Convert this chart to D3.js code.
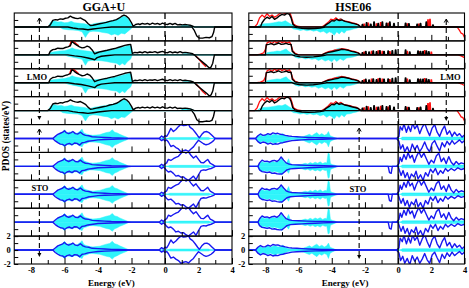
<!DOCTYPE html>
<html><head><meta charset="utf-8">
<script src="https://cdn.jsdelivr.net/npm/d3@7"></script>
<style>
body{margin:0;background:#fff}
svg{display:block}
text{font-family:"Liberation Serif","Times New Roman",serif;font-weight:bold;fill:#000}
</style>
</head><body>
<svg id="c" width="469" height="288"></svg>
<script>
// ---------- tick labels / titles ----------
const energyTicks = [-8,-6,-4,-2,0,2,4];
const energyMinor = [-7,-5,-3,-1,1,3];
const dosTicks = [2,0,-2];
const panelTitles = ["GGA+U","HSE06"];
const rowLabels = ["LMO","STO"];
const xTitle = "Energy (eV)";
const yTitle = "PDOS (states/eV)";

// ---------- GGA+U, LMO (profile A: rows 1 & 4) ----------
const ggaLmoA_up = [[-7.0,0],[-6.85,0.3],[-6.7,0.95],[-6.55,1.05],[-6.4,1.0],[-6.25,1.15],[-6.1,1.1],[-5.95,1.25],[-5.8,1.3],[-5.65,1.55],[-5.5,1.35],[-5.35,1.25],[-5.2,1.2],[-5.05,1.3],[-4.9,1.1],[-4.75,0.9],[-4.6,0.5],[-4.45,0.2],[-4.3,0.25],[-4.1,0.35],[-3.9,0.45],[-3.7,0.55],[-3.5,0.65],[-3.3,0.8],[-3.1,0.9],[-2.9,1.05],[-2.75,1.25],[-2.6,1.5],[-2.45,1.7],[-2.3,1.55],[-2.15,1.2],[-2.0,0.6],[-1.9,0.1],[-1.75,0.35],[-1.6,0.45],[-1.5,0.35],[-1.35,0.5],[-1.2,0.4],[-1.05,0.5],[-0.9,0.35],[-0.75,0.55],[-0.6,0.4],[-0.45,0.5],[-0.3,0.35],[-0.15,0.55],[0,0.4],[0.15,0.35],[0.3,0.5],[0.45,0.35],[0.6,0.5],[0.75,0.3],[0.9,0.35],[1.05,0.3],[1.2,0.35],[1.35,0.3],[1.5,0.25],[1.65,0.1],[1.75,0]];
const ggaLmoA_dn = [[-5.8,0],[-5.5,-0.15],[-5.2,-0.25],[-4.9,-0.3],[-4.6,-0.4],[-4.3,-0.3],[-4.0,-0.2],[-3.6,-0.1],[-3.2,0],[1.6,0],[1.75,-0.5],[1.9,-1.3],[2.05,-1.6],[2.25,-1.6],[2.45,-1.5],[2.65,-1.55],[2.8,-1.4],[2.9,-0.8],[2.97,0]];
const ggaLmoA_cyUp = [[-6.95,0],[-6.85,0.6],[-6.7,0.9],[-6.55,0.8],[-6.4,0.7],[-6.2,0.75],[-6.0,0.6],[-5.8,0.65],[-5.6,0.8],[-5.4,0.6],[-5.2,0.55],[-5.0,0.5],[-4.8,0.45],[-4.6,0.3],[-4.4,0.35],[-4.2,0.5],[-4.0,0.55],[-3.8,0.65],[-3.6,0.7],[-3.4,0.8],[-3.2,0.9],[-3.0,1.0],[-2.8,1.1],[-2.6,1.4],[-2.45,1.55],[-2.3,1.4],[-2.15,1.0],[-2.0,0.4],[-1.9,0],[0.9,0],[1.0,0.2],[1.3,0.25],[1.6,0.2],[1.75,0]];
const ggaLmoA_cyDn = [[-6.3,0],[-6.1,-0.3],[-5.8,-0.4],[-5.5,-0.45],[-5.2,-0.5],[-4.95,-0.7],[-4.75,-1.5],[-4.62,-1.0],[-4.5,-0.7],[-4.3,-0.6],[-4.0,-0.65],[-3.7,-0.8],[-3.4,-0.9],[-3.2,-1.15],[-3.0,-1.0],[-2.8,-1.2],[-2.6,-0.9],[-2.4,-1.0],[-2.2,-0.6],[-2.0,-0.2],[-1.9,0]];

// ---------- GGA+U, LMO (profile B: rows 2 & 3) ----------
const ggaLmoB_up = [[-6.95,0],[-6.85,0.5],[-6.7,0.75],[-6.55,0.8],[-6.4,0.95],[-6.25,0.9],[-6.1,0.9],[-5.95,1.05],[-5.8,1.15],[-5.65,1.3],[-5.55,1.9],[-5.4,1.6],[-5.25,1.35],[-5.1,1.15],[-4.95,1.0],[-4.8,1.05],[-4.65,1.25],[-4.5,1.1],[-4.35,0.7],[-4.2,0.15],[-4.05,0.3],[-3.85,0.45],[-3.65,0.55],[-3.45,0.65],[-3.2,0.8],[-3.0,0.9],[-2.8,1.05],[-2.6,1.2],[-2.4,1.35],[-2.2,1.45],[-2.05,1.5],[-1.95,0.2],[-1.8,0.35],[-1.65,0.3],[-1.5,0.4],[-1.35,0.3],[-1.2,0.45],[-1.05,0.3],[-0.9,0.4],[-0.75,0.35],[-0.6,0.45],[-0.45,0.3],[-0.3,0.4],[-0.15,0.5],[0,0.35],[0.15,0.3],[0.3,0.45],[0.45,0.3],[0.6,0.4],[0.75,0.3],[0.9,0.45],[1.05,0.3],[1.2,0.35],[1.35,0.3],[1.5,0.25],[1.65,0.15],[1.75,0]];
const ggaLmoB_dn = [[-5.8,0],[-5.4,-0.15],[-5.0,-0.25],[-4.6,-0.45],[-4.35,-0.6],[-4.2,-0.7],[-4.05,-0.4],[-3.8,-0.2],[-3.4,-0.1],[-3.0,0],[1.75,0],[1.9,-0.35],[2.1,-0.75],[2.3,-1.15],[2.5,-1.55],[2.65,-1.9],[2.75,-1.75],[2.85,-1.2],[2.95,0]];
const ggaLmoB_redV = [[-5.7,1.25],[-5.58,2.1],[-5.45,1.9],[-5.3,1.6],[-5.15,1.3]];
const ggaLmoB_redC = [[1.85,-0.15],[2.05,-0.7],[2.25,-1.25],[2.45,-1.7]];
const ggaLmoB_cyUp = [[-6.95,0],[-6.85,0.35],[-6.6,0.45],[-6.3,0.55],[-6.0,0.6],[-5.7,0.8],[-5.55,1.0],[-5.4,0.85],[-5.1,0.7],[-4.8,0.6],[-4.5,0.5],[-4.3,0.4],[-4.1,0.45],[-3.8,0.5],[-3.5,0.6],[-3.2,0.7],[-2.9,0.85],[-2.6,1.05],[-2.3,1.25],[-2.1,1.35],[-2.0,1.2],[-1.95,0],[1.0,0],[1.1,0.15],[1.6,0.2],[1.7,0]];
const ggaLmoB_cyDn = [[-6.0,0],[-5.8,-0.2],[-5.5,-0.35],[-5.2,-0.5],[-4.95,-0.65],[-4.75,-1.5],[-4.6,-0.9],[-4.4,-0.8],[-4.1,-0.8],[-3.8,-0.85],[-3.5,-0.95],[-3.2,-1.1],[-2.9,-1.2],[-2.7,-1.5],[-2.55,-1.2],[-2.4,-1.45],[-2.25,-1.0],[-2.05,-0.6],[-1.95,0]];

// ---------- GGA+U, STO (valence shared by rows 5-9) ----------
const ggaStoVal_up = [[-6.7,0],[-6.55,0.3],[-6.4,0.6],[-6.25,0.75],[-6.1,0.9],[-6.0,1.1],[-5.9,0.85],[-5.75,0.7],[-5.6,0.85],[-5.5,1.0],[-5.35,0.7],[-5.2,0.65],[-5.05,0.9],[-4.9,0.6],[-4.75,0.45],[-4.55,0.4],[-4.35,0.25],[-4.0,0.2],[-3.6,0.15],[-3.2,0.1],[-2.8,0.08],[-2.4,0.05],[-2.0,0]];
const ggaStoVal_dn = [[-6.7,0],[-6.55,-0.35],[-6.4,-0.6],[-6.25,-0.8],[-6.1,-0.85],[-6.0,-1.05],[-5.85,-0.8],[-5.7,-0.7],[-5.55,-0.9],[-5.4,-0.65],[-5.25,-0.7],[-5.1,-0.95],[-4.95,-0.6],[-4.8,-0.55],[-4.6,-0.4],[-4.3,-0.3],[-4.0,-0.2],[-3.6,-0.15],[-3.2,-0.12],[-2.8,-0.08],[-2.4,-0.05],[-2.0,0]];
const ggaStoVal_cyUp = [[-6.6,0],[-6.45,0.4],[-6.3,0.7],[-6.15,0.85],[-6.0,1.25],[-5.85,0.8],[-5.7,0.95],[-5.55,0.9],[-5.4,0.8],[-5.25,0.75],[-5.1,1.0],[-4.95,1.35],[-4.85,0.8],[-4.7,0.65],[-4.5,0.5],[-4.3,0.45],[-4.1,0.5],[-3.9,0.55],[-3.7,0.7],[-3.5,0.85],[-3.3,0.95],[-3.15,1.25],[-3.0,0.9],[-2.85,0.8],[-2.7,0.6],[-2.5,0.4],[-2.3,0.2],[-2.15,0],[0.15,0],[0.3,0.15],[2.6,0.15],[2.75,0]];
const ggaStoVal_cyDn = [[-6.6,0],[-6.45,-0.45],[-6.3,-0.7],[-6.15,-0.9],[-6.0,-1.2],[-5.85,-0.85],[-5.7,-0.9],[-5.55,-0.95],[-5.4,-0.8],[-5.25,-0.8],[-5.1,-1.05],[-4.95,-1.2],[-4.85,-0.75],[-4.7,-0.7],[-4.5,-0.5],[-4.3,-0.5],[-4.1,-0.55],[-3.9,-0.6],[-3.7,-0.75],[-3.5,-0.9],[-3.3,-1.0],[-3.15,-1.3],[-3.0,-0.95],[-2.85,-0.8],[-2.7,-0.6],[-2.5,-0.4],[-2.3,-0.2],[-2.15,0],[0.15,0],[0.3,-0.15],[2.6,-0.15],[2.75,0]];
// conduction band, profile C (rows 5 & 9) and D (rows 6-8)
const ggaStoC_up = [[-0.35,0],[-0.2,0.35],[-0.1,0.15],[0.0,0.4],[0.1,0.3],[0.2,0.7],[0.35,1.45],[0.5,1.0],[0.65,1.3],[0.8,1.7],[0.95,2.0],[1.1,1.85],[1.25,1.9],[1.4,2.05],[1.5,1.6],[1.65,1.35],[1.8,0.9],[1.95,0.4],[2.05,0.1],[2.2,0.6],[2.35,0.95],[2.5,1.0],[2.65,0.8],[2.8,0.45],[2.95,0.1],[3.05,0]];
const ggaStoC_dn = [[-0.35,0],[-0.2,-0.3],[-0.1,-0.1],[0.0,-0.35],[0.1,-0.2],[0.2,-0.5],[0.35,-1.15],[0.5,-1.0],[0.65,-1.3],[0.8,-1.5],[0.95,-1.9],[1.1,-1.75],[1.25,-1.65],[1.4,-1.85],[1.55,-1.5],[1.7,-1.2],[1.85,-0.7],[2.0,-0.25],[2.15,-0.5],[2.3,-0.75],[2.45,-0.9],[2.6,-0.8],[2.75,-0.6],[2.9,-0.3],[3.0,0]];
const ggaStoD_up = [[-0.35,0],[-0.2,0.3],[-0.1,0.1],[0.0,0.35],[0.1,0.5],[0.2,1.0],[0.35,0.85],[0.5,1.1],[0.65,1.3],[0.8,1.45],[0.95,1.85],[1.1,2.2],[1.25,1.9],[1.4,2.1],[1.55,1.6],[1.7,1.2],[1.85,1.5],[2.0,1.0],[2.15,0.55],[2.3,0.5],[2.45,0.8],[2.55,1.0],[2.7,0.45],[2.85,0.25],[3.0,0]];
const ggaStoD_dn = [[-0.35,0],[-0.2,-0.3],[-0.1,-0.1],[0.0,-0.3],[0.1,-0.6],[0.2,-0.8],[0.35,-0.7],[0.5,-1.0],[0.65,-1.4],[0.8,-1.3],[0.95,-1.55],[1.1,-1.5],[1.25,-1.8],[1.4,-2.0],[1.55,-1.7],[1.7,-1.4],[1.85,-1.9],[2.0,-1.2],[2.15,-0.6],[2.3,-0.5],[2.45,-0.55],[2.6,-0.4],[2.75,-0.3],[2.9,-0.15],[3.0,0]];

// ---------- HSE06, LMO (profile E: rows 1 & 4) ----------
const hseLmoE_red = [[-8.65,0],[-8.5,0.4],[-8.35,1.3],[-8.2,1.7],[-8.05,1.4],[-7.9,1.9],[-7.75,1.5],[-7.6,1.7],[-7.45,1.4],[-7.3,1.6],[-7.15,1.9],[-7.0,2.1],[-6.8,1.9],[-6.65,2.2],[-6.5,1.9],[-6.4,1.2],[-6.3,0.4],[-6.1,0.1],[-5.8,0],[-4.6,0],[-4.4,0.3],[-4.2,0.7],[-4.05,1.1],[-3.9,1.0],[-3.75,1.3],[-3.6,1.0],[-3.45,1.15],[-3.3,0.9],[-3.1,0.8],[-2.9,0.7],[-2.7,0.55],[-2.5,0.45],[-2.3,0.1],[-2.2,0],[3.55,0],[3.7,-0.5],[3.8,-0.9],[3.9,-1.0],[4.0,-1.5]];
const hseLmoE_redSpikeE = [-2.05,-1.8,-1.3,-1.05,-0.6,0.55,1.25,1.8,1.92];
const hseLmoE_redSpikeH = [0.4,0.55,0.45,0.6,0.5,0.45,0.4,1.0,1.1];
const hseLmoE_black = [[-8.3,0],[-8.2,0.6],[-8.05,1.1],[-7.9,1.4],[-7.75,1.2],[-7.6,1.5],[-7.45,1.1],[-7.3,1.3],[-7.15,1.6],[-7.0,1.8],[-6.85,1.7],[-6.7,1.95],[-6.55,1.8],[-6.45,1.3],[-6.35,0.4],[-6.2,0.1],[-6.0,0],[-4.5,0],[-4.35,0.3],[-4.15,0.6],[-4.0,0.9],[-3.85,0.85],[-3.7,1.1],[-3.55,0.9],[-3.4,1.0],[-3.2,0.8],[-3.0,0.7],[-2.8,0.55],[-2.6,0.45],[-2.4,0.3],[-2.25,0]];
const hseLmoE_spikeE = [-2.15,-1.9,-1.65,-1.45,-1.2,-0.95,-0.7,-0.5,-0.25,0.45,0.65,1.15,1.35,1.7,2.1];
const hseLmoE_spikeH = [0.35,0.6,0.4,0.7,0.5,0.7,0.55,0.7,0.5,0.55,0.45,0.4,0.5,0.7,0.3];
const hseLmoE_blackDn = [[-6.3,0],[-6.1,-0.1],[-5.8,-0.2],[-5.4,-0.25],[-5.0,-0.22],[-4.7,-0.15],[-4.4,0]];
const hseLmoE_cyUp = [[-8.5,0],[-8.35,0.3],[-8.1,0.45],[-7.8,0.5],[-7.5,0.6],[-7.2,0.75],[-7.0,0.7],[-6.8,0.9],[-6.6,0.6],[-6.4,0.3],[-6.2,0.1],[-6.0,0],[-4.6,0],[-4.4,0.35],[-4.2,0.55],[-4.0,0.7],[-3.8,0.9],[-3.6,1.05],[-3.45,1.25],[-3.3,0.85],[-3.1,0.7],[-2.9,0.55],[-2.7,0.4],[-2.5,0.25],[-2.3,0]];
const hseLmoE_cyDn = [[-6.5,0],[-6.3,-0.3],[-6.1,-0.35],[-5.9,-0.5],[-5.7,-0.4],[-5.5,-0.55],[-5.3,-0.45],[-5.1,-0.6],[-4.9,-0.5],[-4.7,-0.75],[-4.5,-0.6],[-4.3,-0.95],[-4.15,-0.7],[-4.0,-0.85],[-3.85,-1.2],[-3.7,-0.7],[-3.55,-1.0],[-3.4,-0.6],[-3.25,-0.9],[-3.1,-0.5],[-2.9,-0.45],[-2.7,-0.3],[-2.5,-0.2],[-2.3,0]];

// ---------- HSE06, LMO (profile F: rows 2 & 3) ----------
const hseLmoF_red = [[-8.5,0],[-8.3,0.1],[-8.1,0.3],[-8.0,0.8],[-7.9,1.7],[-7.75,1.9],[-7.6,1.6],[-7.45,1.95],[-7.3,1.7],[-7.15,2.0],[-7.0,1.75],[-6.85,1.9],[-6.7,1.7],[-6.55,1.85],[-6.45,1.4],[-6.35,0.6],[-6.2,0.2],[-6.0,0],[-4.6,0],[-4.4,0.25],[-4.2,0.45],[-4.0,0.55],[-3.8,0.7],[-3.6,0.75],[-3.4,0.9],[-3.2,0.8],[-3.0,0.7],[-2.8,0.55],[-2.6,0.45],[-2.4,0.3],[-2.25,0],[3.6,0],[3.8,-0.15],[4.0,-0.4]];
const hseLmoF_redSpikeE = [-2.05,-1.6,-1.2,-0.95,-0.5,0.55,1.25,1.6,2.0];
const hseLmoF_redSpikeH = [0.4,0.5,0.55,0.5,0.45,0.5,0.45,0.6,0.4];
const hseLmoF_black = [[-8.0,0],[-7.95,1.45],[-7.8,1.5],[-7.65,1.6],[-7.5,1.45],[-7.35,1.55],[-7.2,1.7],[-7.05,1.5],[-6.9,1.55],[-6.75,1.65],[-6.6,1.5],[-6.45,1.5],[-6.38,0.5],[-6.2,0.1],[-6.0,0],[-4.6,0],[-4.4,0.2],[-4.2,0.35],[-4.0,0.45],[-3.8,0.55],[-3.6,0.65],[-3.4,0.8],[-3.2,0.75],[-3.0,0.65],[-2.8,0.5],[-2.6,0.4],[-2.4,0.25],[-2.25,0]];
const hseLmoF_spikeE = [-2.15,-1.95,-1.75,-1.5,-1.3,-1.1,-0.85,-0.6,-0.35,-0.15,0.45,0.7,1.2,1.35,1.5,1.7,1.85];
const hseLmoF_spikeH = [0.3,0.5,0.4,0.55,0.45,0.6,0.5,0.55,0.6,0.7,0.7,0.4,0.55,0.5,0.5,0.55,0.45];
const hseLmoF_blackDn = [[-6.4,0],[-6.2,-0.15],[-5.9,-0.3],[-5.5,-0.35],[-5.1,-0.3],[-4.8,-0.2],[-4.5,-0.1],[-4.3,0]];
const hseLmoF_cyUp = [[-8.0,0],[-7.9,0.3],[-7.7,0.4],[-7.5,0.45],[-7.3,0.55],[-7.1,0.5],[-6.9,0.7],[-6.75,0.85],[-6.6,0.5],[-6.45,0.25],[-6.3,0],[-4.5,0],[-4.3,0.3],[-4.1,0.45],[-3.9,0.6],[-3.7,0.85],[-3.55,0.95],[-3.4,0.8],[-3.2,0.7],[-3.0,0.55],[-2.8,0.45],[-2.6,0.3],[-2.4,0.15],[-2.3,0]];
const hseLmoF_cyDn = [[-6.4,0],[-6.2,-0.35],[-6.0,-0.5],[-5.8,-0.4],[-5.6,-0.6],[-5.4,-0.5],[-5.2,-0.65],[-5.0,-0.55],[-4.8,-0.8],[-4.6,-0.6],[-4.4,-0.9],[-4.2,-0.7],[-4.0,-1.0],[-3.85,-0.6],[-3.7,-0.95],[-3.5,-0.55],[-3.3,-0.8],[-3.1,-0.45],[-2.9,-0.4],[-2.7,-0.3],[-2.5,-0.15],[-2.35,0]];

// ---------- HSE06, STO (profile G: rows 5 & 9) ----------
const hseStoG_up = [[-8.6,0],[-8.45,0.4],[-8.3,0.65],[-8.15,0.45],[-8.0,0.5],[-7.85,0.7],[-7.7,0.55],[-7.55,0.8],[-7.4,0.7],[-7.25,0.75],[-7.1,0.6],[-6.95,0.55],[-6.8,0.45],[-6.6,0.35],[-6.4,0.3],[-6.1,0.25],[-5.8,0.2],[-5.4,0.15],[-5.0,0.12],[-4.6,0.1],[-4.2,0.08],[-3.8,0.05],[-3.5,0],[-0.1,0],[0.05,0.3],[0.12,1.7],[0.25,1.2],[0.35,2.1],[0.5,0.9],[0.62,1.8],[0.75,1.0],[0.88,2.2],[1.0,1.4],[1.15,1.9],[1.3,0.7],[1.45,1.6],[1.6,2.2],[1.75,1.2],[1.9,0.4],[2.05,1.5],[2.2,2.0],[2.35,0.9],[2.5,0.3],[2.65,1.2],[2.8,1.8],[2.95,0.6],[3.1,1.1],[3.25,0.3],[3.4,0.9],[3.55,0.4],[3.7,0.7],[3.85,0.2],[4.0,0.5]];
const hseStoG_dn = [[-8.6,0],[-8.45,-0.45],[-8.3,-0.7],[-8.15,-0.5],[-8.0,-0.6],[-7.85,-0.8],[-7.7,-0.65],[-7.55,-0.85],[-7.4,-0.75],[-7.25,-0.8],[-7.1,-0.65],[-6.95,-0.6],[-6.8,-0.5],[-6.6,-0.4],[-6.4,-0.3],[-6.1,-0.25],[-5.8,-0.2],[-5.4,-0.15],[-5.0,-0.12],[-4.6,-0.1],[-4.2,-0.08],[-3.8,-0.05],[-3.5,0],[-0.1,0],[0.05,-0.4],[0.15,-1.5],[0.28,-0.9],[0.4,-1.9],[0.55,-1.2],[0.7,-2.1],[0.85,-0.8],[1.0,-1.6],[1.15,-1.0],[1.3,-1.9],[1.45,-1.3],[1.6,-0.5],[1.75,-1.4],[1.9,-1.9],[2.05,-0.7],[2.2,-0.3],[2.35,-1.1],[2.5,-1.8],[2.65,-0.6],[2.8,-1.2],[2.95,-0.4],[3.1,-0.9],[3.25,-0.3],[3.4,-0.8],[3.55,-0.5],[3.7,-0.2],[3.85,-0.6],[4.0,-0.3]];
const hseStoG_cyUp = [[-8.55,0],[-8.45,0.35],[-8.3,0.5],[-8.15,0.3],[-8.0,0.45],[-7.85,0.6],[-7.7,0.4],[-7.55,0.55],[-7.4,0.65],[-7.25,0.45],[-7.1,0.5],[-6.95,0.7],[-6.8,0.35],[-6.6,0.2],[-6.3,0.15],[-6.0,0.2],[-5.7,0.3],[-5.5,0.45],[-5.35,0.6],[-5.2,0.4],[-5.05,0.65],[-4.9,0.85],[-4.75,0.5],[-4.6,0.7],[-4.45,0.45],[-4.3,0.6],[-4.2,1.0],[-4.1,0.4],[-3.95,0.25],[-3.8,0.1],[-3.65,0],[0.15,0],[0.25,0.2],[4.0,0.2]];
const hseStoG_cyDn = [[-8.55,0],[-8.45,-0.4],[-8.3,-0.55],[-8.15,-0.35],[-8.0,-0.5],[-7.85,-0.65],[-7.7,-0.45],[-7.55,-0.6],[-7.4,-0.7],[-7.25,-0.5],[-7.1,-0.55],[-6.95,-0.6],[-6.8,-0.35],[-6.6,-0.2],[-6.3,-0.15],[-6.0,-0.2],[-5.7,-0.3],[-5.5,-0.5],[-5.35,-0.65],[-5.2,-0.45],[-5.05,-0.7],[-4.9,-0.95],[-4.75,-0.55],[-4.6,-0.75],[-4.45,-0.5],[-4.3,-0.65],[-4.2,-1.2],[-4.1,-0.45],[-3.95,-0.25],[-3.8,-0.1],[-3.65,0],[0.15,0],[0.25,-0.2],[4.0,-0.2]];

// ---------- HSE06, STO (profile H: rows 6-8) ----------
const hseStoH_up = [[-8.45,0],[-8.35,0.5],[-8.2,0.9],[-8.05,0.7],[-7.9,0.75],[-7.75,0.6],[-7.6,0.8],[-7.45,0.85],[-7.3,0.7],[-7.15,1.0],[-7.05,1.35],[-6.9,0.9],[-6.75,0.5],[-6.6,0.35],[-6.4,0.25],[-6.0,0.2],[-5.5,0.15],[-5.0,0.12],[-4.5,0.1],[-4.0,0.05],[-3.6,0],[-0.1,0],[0.05,0.4],[0.12,1.3],[0.22,0.7],[0.35,1.7],[0.48,1.0],[0.6,2.0],[0.72,1.2],[0.85,1.6],[0.98,0.6],[1.1,1.4],[1.25,2.1],[1.4,1.3],[1.55,1.9],[1.7,1.1],[1.85,0.3],[2.0,0.9],[2.15,0.5],[2.3,1.5],[2.45,1.9],[2.6,0.7],[2.75,1.2],[2.9,0.4],[3.05,1.4],[3.2,0.6],[3.35,0.2],[3.5,0.7],[3.65,0.3],[3.8,0.5],[4.0,0.35]];
const hseStoH_dn = [[-8.45,0],[-8.35,-0.5],[-8.2,-0.75],[-8.05,-0.8],[-7.9,-0.9],[-7.75,-0.8],[-7.6,-1.0],[-7.45,-0.95],[-7.3,-1.05],[-7.15,-1.1],[-7.0,-1.1],[-6.85,-0.8],[-6.7,-0.5],[-6.5,-0.35],[-6.2,-0.3],[-5.8,-0.25],[-5.4,-0.2],[-5.0,-0.15],[-4.5,-0.1],[-4.0,-0.05],[-3.6,0],[-0.6,0],[-0.52,-0.9],[-0.42,-1.0],[-0.35,0],[0.0,0],[0.08,-0.6],[0.18,-1.3],[0.3,-0.6],[0.42,-1.6],[0.55,-0.9],[0.68,-1.9],[0.8,-1.1],[0.95,-1.5],[1.08,-0.7],[1.2,-1.8],[1.35,-1.2],[1.5,-2.0],[1.65,-0.9],[1.8,-1.4],[1.95,-0.4],[2.1,-0.9],[2.25,-0.3],[2.4,-1.2],[2.55,-0.6],[2.7,-1.0],[2.85,-0.3],[3.0,-0.7],[3.2,-0.3],[3.4,-0.6],[3.6,-0.2],[3.8,-0.45],[4.0,-0.3]];
const hseStoH_cyUp = [[-8.45,0],[-8.35,0.45],[-8.2,0.7],[-8.05,0.5],[-7.9,0.6],[-7.75,0.5],[-7.6,0.7],[-7.45,0.6],[-7.3,0.65],[-7.15,0.8],[-7.0,1.2],[-6.9,0.7],[-6.75,0.4],[-6.6,1.1],[-6.5,0.3],[-6.3,0.2],[-6.0,0.25],[-5.8,0.3],[-5.6,0.45],[-5.45,0.35],[-5.3,0.55],[-5.15,0.4],[-5.0,0.6],[-4.85,0.45],[-4.7,0.65],[-4.55,0.4],[-4.4,0.55],[-4.3,0.5],[-4.22,1.9],[-4.15,1.8],[-4.08,0.4],[-3.95,0.25],[-3.8,0.15],[-3.65,0],[0.15,0],[0.25,0.2],[4.0,0.2]];
const hseStoH_cyDn = [[-8.45,0],[-8.35,-0.55],[-8.2,-0.8],[-8.05,-0.6],[-7.9,-0.75],[-7.75,-0.6],[-7.6,-0.85],[-7.45,-0.7],[-7.3,-0.8],[-7.15,-0.9],[-7.0,-1.2],[-6.9,-0.8],[-6.75,-0.5],[-6.6,-1.0],[-6.5,-0.35],[-6.3,-0.25],[-6.0,-0.3],[-5.8,-0.35],[-5.6,-0.5],[-5.45,-0.4],[-5.3,-0.6],[-5.15,-0.45],[-5.0,-0.65],[-4.85,-0.5],[-4.7,-0.7],[-4.55,-0.45],[-4.4,-0.6],[-4.3,-0.55],[-4.22,-1.7],[-4.15,-1.6],[-4.08,-0.45],[-3.95,-0.3],[-3.8,-0.15],[-3.65,0],[0.15,0],[0.25,-0.2],[4.0,-0.2]];

// ---------- colours ----------
const CYAN = "#2ff4fa", BLUE = "#1818f0", RED = "#ff1010", BLACK = "#000";

// ---------- build profiles ----------
function spikes(E, H){ const o=[]; E.forEach((e,i)=>{ o.push([e-0.04,0],[e-0.015,H[i]],[e+0.015,H[i]],[e+0.04,0]); }); return o; }
function pad(pts){ const p=pts.slice().sort((a,b)=>a[0]-b[0]); if(p[0][0]>-9) p.unshift([-9,0]); if(p[p.length-1][0]<4) p.push([4,0]); return p; }

const P = {
  A:{cyan:[ggaLmoA_cyUp,ggaLmoA_cyDn], redFull:[], redPart:[], main:[ggaLmoA_dn,ggaLmoA_up], color:BLACK},
  B:{cyan:[ggaLmoB_cyUp,ggaLmoB_cyDn], redFull:[], redPart:[ggaLmoB_redV,ggaLmoB_redC], main:[ggaLmoB_dn,ggaLmoB_up], color:BLACK},
  C:{cyan:[ggaStoVal_cyUp,ggaStoVal_cyDn], redFull:[], redPart:[], main:[ggaStoVal_up.concat(ggaStoC_up), ggaStoVal_dn.concat(ggaStoC_dn)], color:BLUE},
  D:{cyan:[ggaStoVal_cyUp,ggaStoVal_cyDn], redFull:[], redPart:[], main:[ggaStoVal_up.concat(ggaStoD_up), ggaStoVal_dn.concat(ggaStoD_dn)], color:BLUE},
  E:{cyan:[hseLmoE_cyUp,hseLmoE_cyDn], redFull:[hseLmoE_red.concat(spikes(hseLmoE_redSpikeE,hseLmoE_redSpikeH))], redPart:[], main:[hseLmoE_blackDn, hseLmoE_black.concat(spikes(hseLmoE_spikeE,hseLmoE_spikeH))], color:BLACK},
  F:{cyan:[hseLmoF_cyUp,hseLmoF_cyDn], redFull:[hseLmoF_red.concat(spikes(hseLmoF_redSpikeE,hseLmoF_redSpikeH))], redPart:[], main:[hseLmoF_blackDn, hseLmoF_black.concat(spikes(hseLmoF_spikeE,hseLmoF_spikeH))], color:BLACK},
  G:{cyan:[hseStoG_cyUp,hseStoG_cyDn], redFull:[], redPart:[], main:[hseStoG_up,hseStoG_dn], color:BLUE},
  H:{cyan:[hseStoH_cyUp,hseStoH_cyDn], redFull:[], redPart:[], main:[hseStoH_up,hseStoH_dn], color:BLUE}
};

const plots = [
  {title:panelTitles[0], x0:14.25, x1:232, rows:["A","B","B","A","C","D","D","D","C"], titleE:-3.65,
   arrows:[{E:-7.5, up:18, segs:[[19,70],[84,117]], dn:120, label:rowLabels[0], lx:37, ly:80},
           {E:-7.5, up:129, segs:[[130,181],[195,254]], dn:257, label:rowLabels[1], lx:40, ly:191}]},
  {title:panelTitles[1], x0:248.8, x1:464.5, rows:["E","F","F","E","G","H","H","H","G"], titleE:-2.7,
   arrows:[{E:2.9, up:19, segs:[[20,71],[84,118]], dn:121, label:rowLabels[0], lx:450.5, ly:80},
           {E:-2.35, up:128, segs:[[129,181],[195,256]], dn:259, label:rowLabels[1], lx:358, ly:191.5}]}
];

const svg = d3.select("#c");
const rowScale = d3.scaleBand().domain(d3.range(9)).range([13,264]);
const defs = svg.append("defs");

plots.forEach((pl, pi) => {
  const x = d3.scaleLinear().domain([-9,4]).range([pl.x0, pl.x1]);
  const g = svg.append("g");
  pl.rows.forEach((key, ri) => {
    const top = rowScale(ri), bot = top + rowScale.bandwidth();
    const y = d3.scaleLinear().domain([-2,2]).range([bot, top]);
    const id = `clip${pi}_${ri}`;
    defs.append("clipPath").attr("id", id).append("rect")
      .attr("x", pl.x0).attr("y", top).attr("width", pl.x1-pl.x0).attr("height", bot-top);
    const rg = g.append("g").attr("clip-path", `url(#${id})`);
    const prof = P[key];
    const area = d3.area().x(d=>x(d[0])).y0(y(0)).y1(d=>y(d[1]));
    const line = d3.line().x(d=>x(d[0])).y(d=>y(d[1]));
    prof.cyan.forEach(c => rg.append("path").attr("d", area(pad(c))).attr("fill", CYAN).attr("stroke", CYAN).attr("stroke-width",0.5));
    prof.redFull.forEach(r => rg.append("path").attr("d", line(pad(r))).attr("fill","none").attr("stroke",RED).attr("stroke-width",1.3));
    prof.redPart.forEach(r => rg.append("path").attr("d", line(r)).attr("fill","none").attr("stroke",RED).attr("stroke-width",1.3));
    prof.main.forEach(m => rg.append("path").attr("d", line(pad(m))).attr("fill","none").attr("stroke",prof.color).attr("stroke-width",1.4).attr("stroke-linejoin","round"));

    // ticks
    const xa = g.append("g").attr("transform", `translate(0,${bot})`);
    xa.call(d3.axisBottom(x).tickValues(energyTicks).tickSize(-6).tickPadding(3)
      .tickFormat(ri===8 ? (d=>String(d)) : ""));
    const xm = g.append("g").attr("transform", `translate(0,${bot})`);
    xm.call(d3.axisBottom(x).tickValues(energyMinor).tickSize(-4).tickFormat(""));
    const ya = g.append("g").attr("transform", `translate(${pl.x0},0)`);
    ya.call(d3.axisLeft(y).tickValues(ri===8 ? [-2,-1,0,1,2] : [-1,1]).tickSize(-4).tickPadding(3.5)
      .tickFormat(d => dosTicks.includes(d) && ri===8 ? String(d) : ""));
    [xa,xm,ya].forEach(a => { a.select(".domain").remove(); a.attr("font-family",null).attr("font-size",8.5);
      a.selectAll("line").attr("stroke","#000").attr("stroke-width",1); });

    g.append("rect").attr("x",pl.x0).attr("y",top).attr("width",pl.x1-pl.x0).attr("height",bot-top)
      .attr("fill","none").attr("stroke","#000").attr("stroke-width",1.1);
  });

  // Fermi level
  const xf = x(0);
  g.append("line").attr("x1",xf).attr("x2",xf).attr("y1",13).attr("y2",rowScale(4))
    .attr("stroke","#000").attr("stroke-width",1.3).attr("stroke-dasharray","6,3");
  g.append("line").attr("x1",xf).attr("x2",xf).attr("y1",rowScale(4)).attr("y2",264)
    .attr("stroke","#000").attr("stroke-width",1.3);

  // spin arrows + labels
  pl.arrows.forEach(a => {
    const ax = x(a.E);
    a.segs.forEach(s => g.append("line").attr("x1",ax).attr("x2",ax).attr("y1",s[0]).attr("y2",s[1])
      .attr("stroke","#000").attr("stroke-width",1.1).attr("stroke-dasharray","5,3"));
    g.append("path").attr("d",`M${ax-2},${a.up+3.5}L${ax},${a.up}L${ax+2},${a.up+3.5}`)
      .attr("fill","none").attr("stroke","#000").attr("stroke-width",1);
    g.append("path").attr("d",`M${ax-2},${a.dn-4}L${ax+2},${a.dn-4}L${ax},${a.dn}Z`).attr("fill","#000");
    g.append("text").attr("x",a.lx).attr("y",a.ly).attr("text-anchor","middle").attr("font-size",8.5).text(a.label);
  });

  svg.append("text").attr("x", x(pl.titleE)).attr("y",10.5).attr("text-anchor","middle").attr("font-size",12).text(pl.title);
  svg.append("text").attr("x", x(-3.2)).attr("y",286).attr("text-anchor","middle").attr("font-size",9).text(xTitle);
});

svg.append("text").attr("transform","translate(8.6,136) rotate(-90)").attr("text-anchor","middle").attr("font-size",9.5).text(yTitle);
</script>
</body></html>
